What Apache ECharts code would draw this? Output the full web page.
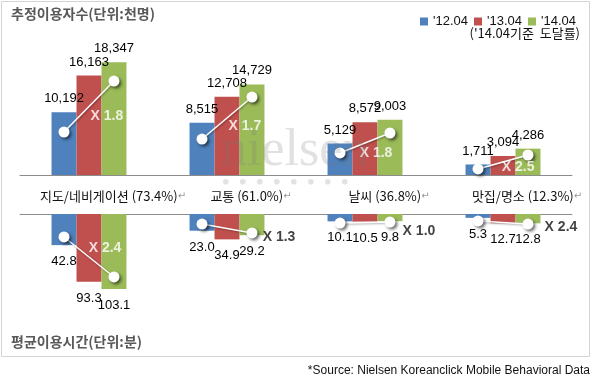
<!DOCTYPE html>
<html><head><meta charset="utf-8">
<script src="https://cdn.jsdelivr.net/npm/echarts@6/dist/echarts.min.js"></script>
<style>html,body{margin:0;padding:0;background:#fff}#c{width:593px;height:385px}</style>
</head><body><div id="c"></div>
<script>
// ---- data ----
const categories = ['지도/네비게이션 (73.4%)', '교통 (61.0%)', '날씨 (36.8%)', '맛집/명소 (12.3%)'];
const seriesNames = ["'12.04", "'13.04", "'14.04"];
const users12 = [10192, 8515, 5129, 1711];
const users13 = [16163, 12708, 8572, 3094];
const users14 = [18347, 14729, 9003, 4286];
const time12 = [42.8, 23.0, 10.1, 5.3];
const time13 = [93.3, 34.9, 10.5, 12.7];
const time14 = [103.1, 29.2, 9.8, 12.8];
const growthUsers = [1.8, 1.7, 1.8, 2.5];
const growthTime = [2.4, 1.3, 1.0, 2.4];
// connector anchor heights (in each panel's value units)
const connUsersFrom = [6990, 5850, 3580, 980];
const connUsersTo = [15280, 12680, 6830, 3250];
const connTimeFrom = [31.6, 13.8, 12.4, 9.6];
const connTimeTo = [86.6, 26.1, 11.0, 13.8];
// growth label anchors (category units / value units)
const growthUsersPos = [[0.63, 9590], [1.63, 7970], [2.58, 3580], [3.61, 1300]];
const growthTimePos = [[0.616, 46.8], [1.877, 31.6], [2.891, 23.4], [3.92, 17.9]];
const growthTimeColor = ['#fff', '#111', '#111', '#111'];

// ---- styling ----
const colors = ['#4F81BD', '#C0504D', '#9BBB59'];
const BAR_W = 0.181; // bar width as fraction of category band
const numFont = 'Liberation Sans';
const krFont = '"Noto Sans CJK KR", "Liberation Sans", sans-serif';

const chart = echarts.init(document.getElementById('c'), null, {renderer: 'canvas'});

const series = [];
const topData = [users12, users13, users14];
const botData = [time12, time13, time14];
for (let s = 0; s < 3; s++) {
  series.push({
    name: seriesNames[s], type: 'bar', xAxisIndex: 0, yAxisIndex: 0,
    data: topData[s], barWidth: (BAR_W * 100) + '%', barGap: '0%',
    itemStyle: {color: colors[s]},
    label: {show: true, position: 'top', distance: 7, color: '#000', fontSize: 13, fontFamily: numFont,
      formatter: p => p.value.toLocaleString('en-US')},
    z: 2
  });
  series.push({
    name: seriesNames[s], type: 'bar', xAxisIndex: 1, yAxisIndex: 1,
    data: botData[s], barWidth: (BAR_W * 100) + '%', barGap: '0%',
    itemStyle: {color: colors[s]},
    label: {show: true, position: 'bottom', distance: 10, color: '#000', fontSize: 13, fontFamily: numFont,
      formatter: p => p.value.toFixed(1)},
    z: 2
  });
}
const markerStyle = {color: '#fff', shadowBlur: 3, shadowColor: 'rgba(0,0,0,0.55)', shadowOffsetX: 2, shadowOffsetY: 2};
const lineStyle = {color: '#fff', width: 1.5, shadowBlur: 2, shadowColor: 'rgba(0,0,0,0.35)', shadowOffsetX: 1, shadowOffsetY: 1};
for (let i = 0; i < categories.length; i++) {
  series.push({
    type: 'line', xAxisIndex: 2, yAxisIndex: 0, z: 5, silent: true,
    data: [[i + 0.5 - BAR_W, connUsersFrom[i]], [i + 0.5 + BAR_W, connUsersTo[i]]],
    symbol: 'circle', symbolSize: 11, lineStyle: lineStyle, itemStyle: markerStyle
  });
  series.push({
    type: 'line', xAxisIndex: 3, yAxisIndex: 1, z: 5, silent: true,
    data: [[i + 0.5 - BAR_W, connTimeFrom[i]], [i + 0.5 + BAR_W, connTimeTo[i]]],
    symbol: 'circle', symbolSize: 11, lineStyle: lineStyle, itemStyle: markerStyle
  });
}
series.push({
  type: 'scatter', xAxisIndex: 2, yAxisIndex: 0, z: 6, symbolSize: 0, silent: true,
  data: growthUsers.map((g, i) => ({value: growthUsersPos[i]})),
  label: {show: true, position: 'inside', color: '#fff', fontSize: 14, fontWeight: 'bold', fontFamily: numFont,
    formatter: p => 'X ' + growthUsers[p.dataIndex].toFixed(1)}
});
series.push({
  type: 'scatter', xAxisIndex: 3, yAxisIndex: 1, z: 6, symbolSize: 0, silent: true,
  data: growthTime.map((g, i) => ({value: growthTimePos[i], label: {color: growthTimeColor[i]}})),
  label: {show: true, position: 'inside', fontSize: 14, fontWeight: 'bold', fontFamily: numFont,
    formatter: p => 'X ' + growthTime[p.dataIndex].toFixed(1)}
});

const axisGray = '#8c8c8c';
chart.setOption({
  animation: false,
  grid: [
    {left: 20, right: 21, top: 52, height: 123},
    {left: 20, right: 21, top: 214, height: 80}
  ],
  legend: {
    data: seriesNames, right: 12, top: 10, icon: 'rect', itemWidth: 8, itemHeight: 8, itemGap: 6,
    textStyle: {fontSize: 13, fontFamily: numFont, color: '#111'}
  },
  xAxis: [
    {type: 'category', gridIndex: 0, data: categories,
      axisLine: {lineStyle: {color: axisGray}}, axisTick: {length: 5, lineStyle: {color: axisGray}},
      axisLabel: {interval: 0, hideOverlap: false, margin: 15, padding: [0, 0, 0, 48], fontSize: 13, fontFamily: krFont, color: '#111',
        formatter: v => '{a|' + v + '}{r|↵}',
        rich: {a: {fontSize: 13, fontFamily: krFont, color: '#111'}, r: {fontSize: 10, color: '#999', fontFamily: 'DejaVu Sans'}}}},
    {type: 'category', gridIndex: 1, data: categories, position: 'top',
      axisLine: {lineStyle: {color: axisGray}}, axisTick: {length: 4, lineStyle: {color: axisGray}},
      axisLabel: {show: false}},
    {type: 'value', gridIndex: 0, min: 0, max: 4, show: false},
    {type: 'value', gridIndex: 1, min: 0, max: 4, show: false}
  ],
  yAxis: [
    {type: 'value', gridIndex: 0, min: 0, max: 20000, show: false, splitLine: {show: false}},
    {type: 'value', gridIndex: 1, min: 0, max: 110, inverse: true, show: false, splitLine: {show: false}}
  ],
  graphic: [
    {type: 'rect', shape: {x: 1.5, y: 1.5, width: 588, height: 355}, style: {fill: 'none', stroke: '#d4d4d4', lineWidth: 1}, z: 0},
    {type: 'text', left: 11, top: 7, style: {text: '추정이용자수(단위:천명)', font: 'bold 14px "Noto Sans CJK KR"', fill: '#595959'}},
    {type: 'text', left: 11, top: 335, style: {text: '평균이용시간(단위:분)', font: 'bold 14px "Noto Sans CJK KR"', fill: '#595959'}},
    {type: 'text', right: 13, top: 27, style: {text: "('14.04기준  도달률)", font: '13px "Noto Sans CJK KR"', fill: '#111'}},
    {type: 'text', right: 3, top: 365, style: {text: '*Source: Nielsen Koreanclick Mobile Behavioral Data', font: '12px "Liberation Sans"', fill: '#111'}},
    {type: 'text', left: 221, top: 125, z: 100, style: {text: 'nielsen', font: '52px "Liberation Serif"', fill: 'rgba(120,120,120,0.22)'}},
    {type: 'group', left: 223, top: 179, z: 100, children: [0,1,2,3,4,5,6,7].map(k => ({
      type: 'circle', shape: {cx: k * 17 + 3, cy: 3, r: 2.8}, style: {fill: 'rgba(160,160,160,0.3)'}}))}
  ],
  series: series
});
</script></body></html>
